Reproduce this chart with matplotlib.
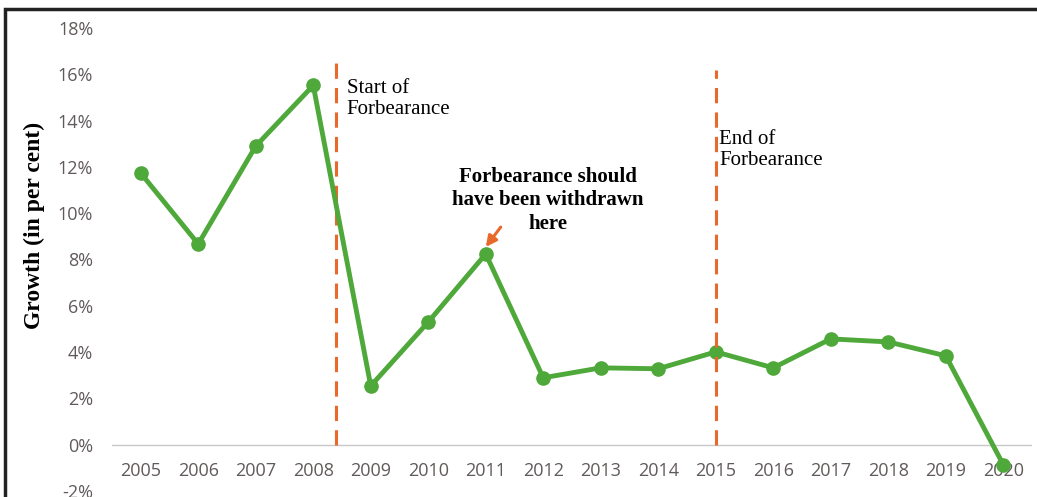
import matplotlib.pyplot as plt
from matplotlib.patches import Rectangle
from matplotlib.ticker import FuncFormatter

# Данные
years = list(range(2005, 2021))
growth = [11.73, 8.67, 12.9, 15.52, 2.54, 5.30, 8.24, 2.89, 3.32, 3.28, 4.01, 3.32, 4.57, 4.44, 3.84, -0.86]
start_x = 2008.4
end_x = 2015
start_top = 16.6
end_top = 16.2

green = "#4fa83a"
orange = "#e8692a"
tick_color = "#615a5a"

fig = plt.figure(figsize=(10.37, 4.97), dpi=100)
ax = fig.add_axes([112 / 1037, 6 / 497, (1032 - 112) / 1037, (491 - 28) / 497])

ax.plot(years, growth, color=green, lw=3.5, marker="o", markersize=9.5, zorder=3)
ax.axhline(0, color="#c8c8c8", lw=1, zorder=1)

ax.vlines([start_x], 0, start_top, colors=orange, lw=2.2, linestyles=(0, (5, 3)), zorder=2)
ax.vlines([end_x], 0, end_top, colors=orange, lw=2.2, linestyles=(0, (5, 3)), zorder=4)

ax.set_xlim(2004.5, 2020.5)
ax.set_ylim(-2, 18)
ax.set_yticks(range(-2, 19, 2))
ax.set_xticks(years)
ax.yaxis.set_major_formatter(FuncFormatter(lambda v, p: f"{int(v)}%"))
for s in ax.spines.values():
    s.set_visible(False)
# подписи годов сидят под нулевой линией
ax.spines["bottom"].set_position(("data", 0))
ax.tick_params(length=0, labelsize=13, labelcolor=tick_color)
ax.xaxis.set_tick_params(pad=12.5)
ax.yaxis.set_tick_params(pad=13.5)
for lab in ax.get_xticklabels() + ax.get_yticklabels():
    lab.set_fontfamily("Open Sans")
ax.patch.set_alpha(0)

ax.set_ylabel("Growth (in per cent)", family="Liberation Serif", fontweight="bold", fontsize=17)
ax.yaxis.set_label_coords(-0.073, 0.574)

ax.text(2008.58, 14.92, "Start of\nForbearance", family="Liberation Serif", fontsize=15,
        ha="left", va="center", linespacing=1.15)
ax.text(2015.06, 12.72, "End of\nForbearance", family="Liberation Serif", fontsize=15,
        ha="left", va="center", linespacing=1.15)
ax.text(2012.08, 10.56, "Forbearance should\nhave been withdrawn\nhere", family="Liberation Serif",
        fontweight="bold", fontsize=15, ha="center", va="center", linespacing=1.22)
ax.annotate("", xy=(2011.0, 8.54), xytext=(2011.26, 9.4),
            arrowprops=dict(arrowstyle="-|>", color=orange, lw=2.2, mutation_scale=16,
                            shrinkA=0, shrinkB=0))

fig.patches.append(Rectangle((5 / 1037, -0.1), 1.2, (497 - 9) / 497 + 0.1, transform=fig.transFigure,
                             fill=False, edgecolor="#222222", lw=2.5))

fig.savefig("out.png", dpi=100)
